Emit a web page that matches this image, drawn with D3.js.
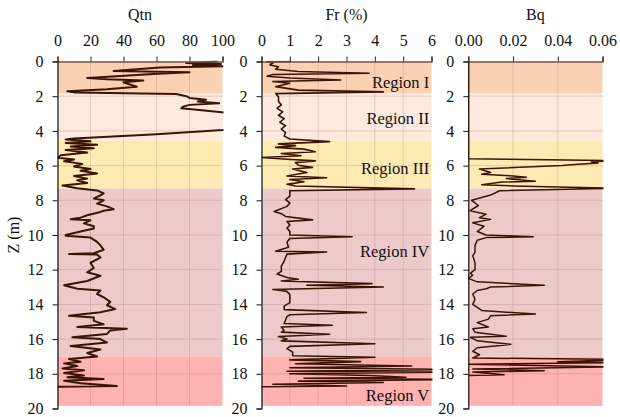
<!DOCTYPE html>
<html>
<head>
<meta charset="utf-8">
<script src="https://d3js.org/d3.v7.min.js"></script>
<style>
  body { margin: 0; background: #fff; }
  svg text { font-family: "Liberation Serif", "Times New Roman", serif !important; fill: #111; }
</style>
</head>
<body>
<div id="vis"></div>
<script>
// depth (m), value pairs
const qtnData = [
  [0.0, 97], [0.08, 78], [0.15, 99], [0.22, 82], [0.28, 100], [0.35, 62], [0.55, 34], [0.62, 80],
  [0.72, 58], [0.95, 18], [1.02, 30], [1.1, 52], [1.2, 40], [1.3, 43], [1.45, 48], [1.6, 30],
  [1.72, 6], [1.78, 10], [1.87, 72], [2.0, 78], [2.1, 80], [2.2, 90], [2.3, 85], [2.4, 98],
  [2.5, 80], [2.6, 76], [2.7, 75], [2.8, 86], [2.95, 102], [3.3, 115], [3.7, 112], [3.95, 100],
  [4.2, 60], [4.44, 10], [4.5, 5], [4.6, 20], [4.7, 5], [4.8, 24], [4.9, 8], [5.0, 22],
  [5.1, 5], [5.25, 18], [5.4, 2], [5.55, 0], [5.65, 10], [5.75, 4], [5.9, 15], [6.05, 10],
  [6.2, 20], [6.3, 14], [6.45, 24], [6.6, 10], [6.75, 18], [6.85, 12], [7.0, 18], [7.15, 3],
  [7.3, 12], [7.43, 24], [7.6, 28], [7.71, 26], [7.9, 22], [8.0, 28], [8.19, 24], [8.35, 30],
  [8.51, 34], [8.6, 28], [8.67, 26], [8.86, 18], [9.0, 14], [9.09, 8], [9.15, 20], [9.33, 16],
  [9.5, 22], [9.62, 22], [9.8, 14], [10.0, 5], [10.05, 5], [10.15, 20], [10.4, 24], [10.6, 26],
  [10.85, 28], [11.05, 22], [11.1, 7], [11.12, 24], [11.3, 26], [11.6, 20], [11.9, 22], [12.15, 18],
  [12.35, 26], [12.65, 18], [12.9, 4], [13.1, 12], [13.2, 26], [13.4, 24], [13.6, 28], [13.85, 32],
  [14.05, 30], [14.27, 35], [14.45, 26], [14.65, 7], [14.75, 22], [14.95, 22], [15.15, 28], [15.3, 12],
  [15.4, 42], [15.5, 32], [15.7, 30], [15.9, 9], [16.0, 26], [16.2, 30], [16.4, 8], [16.6, 26],
  [16.8, 18], [17.0, 24], [17.15, 7], [17.3, 14], [17.4, 4], [17.55, 12], [17.7, 3], [17.8, 16],
  [17.95, 4], [18.1, 16], [18.2, 6], [18.3, 28], [18.4, 4], [18.55, 14], [18.7, 36], [18.75, 0]
];
const frData = [
  [0.0, 1.05], [0.02, 0.2], [0.1, 0.4], [0.2, 0.3], [0.3, 0.6], [0.45, 0.5], [0.58, 1.3], [0.68, 3.8],
  [0.75, 0.4], [0.85, 0.2], [0.95, 1.0], [1.07, 2.8], [1.15, 0.4], [1.25, 1.0], [1.45, 0.5], [1.65, 1.3],
  [1.75, 4.3], [1.85, 0.5], [2.04, 0.6], [2.3, 0.6], [2.5, 0.7], [2.7, 0.55], [2.9, 0.75], [3.1, 0.6],
  [3.3, 0.8], [3.5, 0.65], [3.7, 0.85], [3.9, 0.7], [4.1, 0.85], [4.3, 0.8], [4.47, 1.0], [4.62, 2.4],
  [4.75, 0.6], [4.85, 1.2], [4.95, 0.5], [5.05, 1.5], [5.2, 1.9], [5.3, 0.7], [5.43, 1.4], [5.53, 0.0],
  [5.63, 0.9], [5.73, 1.9], [5.83, 1.2], [5.98, 1.3], [6.1, 1.8], [6.2, 1.1], [6.4, 1.6], [6.6, 0.9],
  [6.7, 2.3], [6.8, 1.0], [6.93, 1.5], [7.08, 0.9], [7.18, 1.2], [7.34, 5.4], [7.45, 1.0], [7.57, 1.0],
  [7.76, 1.0], [7.96, 0.85], [8.15, 1.0], [8.35, 0.9], [8.64, 0.45], [8.77, 0.7], [8.93, 0.85], [9.13, 1.8],
  [9.22, 0.9], [9.42, 1.0], [9.6, 0.9], [9.8, 1.0], [10.0, 1.0], [10.1, 3.2], [10.2, 1.0], [10.4, 0.9],
  [10.7, 0.95], [10.94, 0.5], [10.98, 2.3], [11.1, 0.9], [11.3, 0.85], [11.5, 0.8], [11.8, 0.7], [12.1, 0.7],
  [12.25, 0.55], [12.45, 0.9], [12.55, 1.3], [12.65, 0.7], [12.8, 3.9], [12.9, 1.6], [13.0, 4.3], [13.14, 0.4],
  [13.25, 0.9], [13.45, 1.0], [13.7, 1.0], [13.9, 1.0], [14.1, 0.8], [14.3, 0.8], [14.47, 3.7], [14.6, 1.0],
  [14.7, 0.9], [14.9, 0.85], [15.1, 0.8], [15.2, 2.5], [15.3, 0.7], [15.5, 0.8], [15.6, 0.7], [15.72, 2.4],
  [15.85, 0.6], [16.0, 0.9], [16.1, 0.7], [16.27, 4.0], [16.42, 1.0], [16.55, 0.9], [16.75, 1.1], [16.96, 1.1],
  [17.05, 4.0], [17.2, 1.0], [17.3, 3.5], [17.42, 1.2], [17.55, 5.3], [17.65, 1.0], [17.75, 6.5], [17.85, 0.9],
  [17.9, 6.5], [18.0, 1.0], [18.1, 3.8], [18.2, 5.1], [18.26, 1.5], [18.33, 6.5], [18.42, 1.3], [18.5, 4.3],
  [18.6, 0.4], [18.7, 3.0], [18.75, 0.0]
];
const bqData = [
  [0.0, 0], [5.6, 0], [5.72, 0.065], [5.78, 0.055], [5.85, 0.058], [5.95, 0.046], [6.0, 0.042], [6.2, 0.005],
  [6.4, 0.010], [6.5, 0.006], [6.6, 0.020], [6.67, 0.026], [6.75, 0.017], [6.9, 0.030], [6.95, 0.015], [7.1, 0.006],
  [7.17, 0.020], [7.3, 0.065], [7.45, 0.014], [7.7, 0.010], [8.0, 0.0015], [8.3, 0.0045], [8.6, 0.0008], [8.8, 0.008],
  [9.0, 0.005], [9.1, 0.010], [9.3, 0.002], [9.5, 0.007], [9.8, 0.004], [10.0, 0.008], [10.1, 0.029], [10.15, 0.008],
  [10.3, 0.004], [10.6, 0.003], [11.0, 0.003], [11.2, 0.002], [11.6, 0.003], [12.0, 0.003], [12.2, 0.001], [12.33, 0.002],
  [12.5, 0.0], [12.7, 0.004], [12.9, 0.034], [13.0, 0.010], [13.1, 0.008], [13.2, 0.004], [13.4, 0.002], [13.7, 0.003],
  [14.0, 0.002], [14.17, 0.004], [14.35, 0.006], [14.56, 0.030], [14.65, 0.010], [14.85, 0.009], [15.05, 0.004], [15.3, 0.009],
  [15.4, 0.002], [15.6, 0.003], [15.83, 0.017], [15.9, 0.001], [16.1, 0.004], [16.3, 0.019], [16.5, 0.004], [16.7, 0.002],
  [16.9, 0.005], [17.09, 0.002], [17.18, 0.07], [17.3, 0.04], [17.35, 0.07], [17.45, 0.0], [17.6, 0.065], [17.72, 0.002],
  [17.82, 0.034], [17.9, 0.002], [18.06, 0.016], [18.1, 0.0]
];

const regionNames = ['Region I', 'Region II', 'Region III', 'Region IV', 'Region V'];
const regionTop = [0, 1.82, 4.55, 7.33, 17.0];
const regionBottom = [1.82, 4.55, 7.33, 17.0, 19.85];
const regionColors = ['#fbd1b4', '#fde9dd', '#feeab2', '#eccaca', '#ffb2b2'];
const regionLabelZ = [1.17, 3.26, 6.14, 10.96, 19.22];

const depthTicks = [0, 2, 4, 6, 8, 10, 12, 14, 16, 18, 20];

const panels = [
  { title: 'Qtn', data: qtnData, domain: [0, 100], ticks: [0, 20, 40, 60, 80, 100], fmt: d3.format('d'), x0: 57.5, x1: 222.5, lw: 2 },
  { title: 'Fr (%)', data: frData, domain: [0, 6], ticks: [0, 1, 2, 3, 4, 5, 6], fmt: d3.format('d'), x0: 261.5, x1: 431.5, lw: 1.6 },
  { title: 'Bq', data: bqData, domain: [0, 0.06], ticks: [0, 0.02, 0.04, 0.06], fmt: d3.format('.2f'), x0: 468.3, x1: 602.5, lw: 1.5 }
];

const serif = '"Liberation Serif", "Times New Roman", serif';
const width = 620, height = 417;
const svg = d3.select('#vis').append('svg').attr('width', width).attr('height', height)
  .style('font-family', serif);
const y = d3.scaleLinear().domain([0, 20]).range([61.5, 408.5]);

panels.forEach((p, i) => {
  const x = d3.scaleLinear().domain(p.domain).range([p.x0, p.x1]);
  const g = svg.append('g');

  // region bands
  g.selectAll('.band').data(regionNames).join('rect')
    .attr('x', p.x0).attr('width', p.x1 - p.x0)
    .attr('y', (d, k) => y(regionTop[k]))
    .attr('height', (d, k) => y(regionBottom[k]) - y(regionTop[k]))
    .attr('fill', (d, k) => regionColors[k]);

  // grid
  g.selectAll('.vg').data(p.ticks.slice(1, -1)).join('line')
    .attr('x1', d => x(d)).attr('x2', d => x(d))
    .attr('y1', y(0)).attr('y2', y(19.85))
    .attr('stroke', 'rgba(140,90,90,0.22)').attr('stroke-width', 1);
  g.selectAll('.hg').data(depthTicks.slice(1, -1)).join('line')
    .attr('x1', p.x0).attr('x2', p.x1)
    .attr('y1', d => y(d)).attr('y2', d => y(d))
    .attr('stroke', 'rgba(140,90,90,0.22)').attr('stroke-width', 1);

  // profile line
  const clipId = 'clip' + i;
  svg.append('clipPath').attr('id', clipId).append('rect')
    .attr('x', p.x0).attr('y', y(0) - 1).attr('width', p.x1 - p.x0 + 1).attr('height', y(20) - y(0) + 1);
  const line = d3.line().x(d => x(d[1])).y(d => y(d[0]));
  g.append('path').datum(p.data)
    .attr('clip-path', `url(#${clipId})`)
    .attr('d', line)
    .attr('fill', 'none').attr('stroke', '#3a1407')
    .attr('stroke-width', p.lw).attr('stroke-linejoin', 'round');

  // top axis
  const top = svg.append('g').attr('transform', `translate(0,${y(0)})`)
    .call(d3.axisTop(x).tickValues(p.ticks).tickFormat(p.fmt).tickSize(5).tickPadding(11));
  top.attr('font-family', null).attr('font-size', null);
  top.select('.domain').attr('stroke', '#7a5644').attr('stroke-width', 1.5);
  top.selectAll('.tick line').attr('stroke', '#222');
  top.selectAll('text').style('font-size', '16px').style('font-family', serif).attr('fill', '#111');

  // left axis
  const left = svg.append('g').attr('transform', `translate(${p.x0},0)`)
    .call(d3.axisLeft(y).tickValues(depthTicks).tickSize(5).tickPadding(9));
  left.attr('font-family', null).attr('font-size', null);
  left.select('.domain').attr('stroke', '#111').attr('stroke-width', 1.2);
  left.selectAll('.tick line').attr('stroke', '#111');
  left.selectAll('text').style('font-size', '16px').style('font-family', serif).attr('fill', '#111');

  // title
  svg.append('text').attr('x', (p.x0 + p.x1) / 2).attr('y', 20)
    .attr('text-anchor', 'middle').style('font-size', '16px').style('font-family', serif).text(p.title);
});

// region labels in the middle panel
const frX = d3.scaleLinear().domain(panels[1].domain).range([panels[1].x0, panels[1].x1]);
svg.selectAll('.rlabel').data(regionNames).join('text')
  .attr('x', frX(5.92))
  .attr('y', (d, k) => y(regionLabelZ[k]))
  .attr('dy', '0.35em')
  .attr('text-anchor', 'end')
  .style('font-size', '16.5px').style('font-family', serif)
  .text(d => d);

// depth axis title
svg.append('text')
  .attr('transform', `translate(19,${(y(0) + y(20)) / 2}) rotate(-90)`)
  .attr('text-anchor', 'middle').style('font-size', '16px').style('font-family', serif)
  .text('Z (m)');
</script>
</body>
</html>
